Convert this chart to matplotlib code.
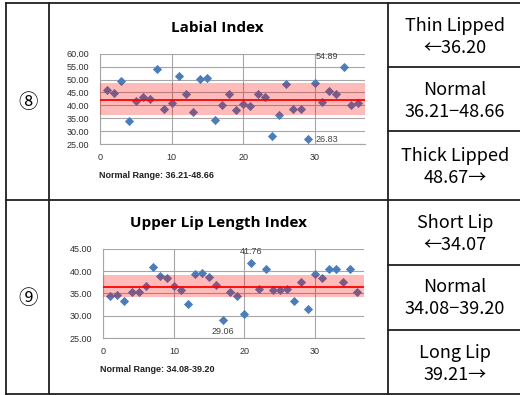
"""
two index scatter charts inside a classification table
"""

import matplotlib.pyplot as plt
import numpy as np

subjects = np.arange(1, 37)

labial_index = [
    45.9, 44.6, 49.6, 34.0, 41.5, 43.4, 42.5, 54.1, 38.6, 40.9, 51.4, 44.2,
    37.5, 50.3, 50.4, 34.3, 40.2, 44.5, 38.1, 40.4, 39.8, 44.2, 43.3, 28.1,
    36.4, 48.3, 38.6, 38.6, 26.83, 48.5, 41.3, 45.4, 44.4, 54.89, 40.0, 41.0,
]
labial_mean = 42.1
labial_range = (36.21, 48.66)

upper_lip_index = [
    34.3, 34.7, 33.3, 35.3, 35.3, 36.7, 40.8, 38.9, 38.4, 36.7, 35.8, 32.6,
    39.3, 39.5, 38.6, 36.9, 29.06, 35.4, 34.3, 30.4, 41.76, 36.0, 40.4, 35.7,
    35.7, 36.0, 33.3, 37.5, 31.6, 39.3, 38.4, 40.4, 40.4, 37.5, 40.5, 35.4,
]
upper_lip_mean = 36.4
upper_lip_range = (34.08, 39.20)

labial_classes = [["Thin Lipped", "←36.20"], ["Normal", "36.21−48.66"], ["Thick Lipped", "48.67→"]]
upper_lip_classes = [["Short Lip", "←34.07"], ["Normal", "34.08−39.20"], ["Long Lip", "39.21→"]]

BLUE = "#4a7ebb"
CJK = ["Noto Sans CJK KR", "DejaVu Sans"]


def draw_index(ax, values, mean, nrange, yticks, notes):
    ax.scatter(subjects, values, marker="D", s=22, color=BLUE, zorder=2, linewidths=0)
    ax.axhspan(nrange[0], nrange[1], color="#ff0000", alpha=0.27, lw=0, zorder=3)
    ax.axhline(mean, color="#ff0000", lw=1.3, zorder=4)
    ax.set_xlim(0, 37)
    ax.set_ylim(yticks[0], yticks[-1])
    ax.set_xticks([0, 10, 20, 30])
    ax.set_yticks(yticks)
    ax.set_yticklabels([f"{t:.2f}" for t in yticks])
    ax.grid(True, color="#a6a6a6", lw=0.8, zorder=0)
    ax.set_axisbelow(True)
    for side in ["top", "right"]:
        ax.spines[side].set_visible(False)
    for side in ["left", "bottom"]:
        ax.spines[side].set_color("#a6a6a6")
    ax.tick_params(length=0, labelsize=6.5, colors="#303030")
    for lab in ax.get_xticklabels() + ax.get_yticklabels():
        lab.set_family("Liberation Sans")
    ax.tick_params(axis="x", pad=6.5)
    ax.tick_params(axis="y", pad=8)
    for i, offset, ha, va in notes:
        ax.annotate(f"{values[i]:.2f}", (subjects[i], values[i]), xytext=offset,
                    textcoords="offset points", ha=ha, va=va, fontsize=6.5,
                    family="Liberation Sans", color="#404040")


fig = plt.figure(figsize=(5.2, 3.95), dpi=100)

# table frame in pixel coordinates
bg = fig.add_axes([0, 0, 1, 1])
bg.set_xlim(0, 520)
bg.set_ylim(395, 0)
bg.axis("off")
lw = 1.3
for x in [6, 49, 388]:
    bg.plot([x, x], [3, 395], color="#202020", lw=lw)
for y in [3, 200, 394]:
    bg.plot([6, 520], [y, y], color="#202020", lw=lw)
for y in [67, 131, 265, 330]:
    bg.plot([388, 520], [y, y], color="#202020", lw=lw)

bg.text(28, 102, "⑧", ha="center", va="center", fontsize=14, family=CJK)
bg.text(28, 298, "⑨", ha="center", va="center", fontsize=14, family=CJK)

for row_y, classes in [([26, 90, 156], labial_classes), ([223, 287, 353], upper_lip_classes)]:
    for y, (name, rng) in zip(row_y, classes):
        bg.text(455, y, name, ha="center", va="center", fontsize=13, family=CJK)
        bg.text(455, y + 22, rng, ha="center", va="center", fontsize=13, family=CJK)

bg.text(217, 28, "Labial Index", ha="center", va="center", fontsize=11,
        fontweight="bold", family="Open Sans")
bg.text(218, 223, "Upper Lip Length Index", ha="center", va="center", fontsize=11,
        fontweight="bold", family="Open Sans")
bg.text(99, 175, f"Normal Range: {labial_range[0]:.2f}-{labial_range[1]:.2f}",
        ha="left", va="center", fontsize=6.5, fontweight="bold", family="Liberation Sans",
        color="#202020")
bg.text(100, 370, f"Normal Range: {upper_lip_range[0]:.2f}-{upper_lip_range[1]:.2f}",
        ha="left", va="center", fontsize=6.5, fontweight="bold", family="Liberation Sans",
        color="#202020")

ax1 = fig.add_axes([0.1923, 0.6354, 0.5096, 0.2286])
draw_index(ax1, labial_index, labial_mean, labial_range,
           [25, 30, 35, 40, 45, 50, 55, 60],
           [(33, (-4, 4), "right", "bottom"), (28, (6, 0), "left", "center")])

ax2 = fig.add_axes([0.1987, 0.1443, 0.502, 0.2261])
draw_index(ax2, upper_lip_index, upper_lip_mean, upper_lip_range,
           [25, 30, 35, 40, 45],
           [(20, (0, 5), "center", "bottom"), (16, (0, -5), "center", "top")])

fig.savefig("out.png", dpi=100)
